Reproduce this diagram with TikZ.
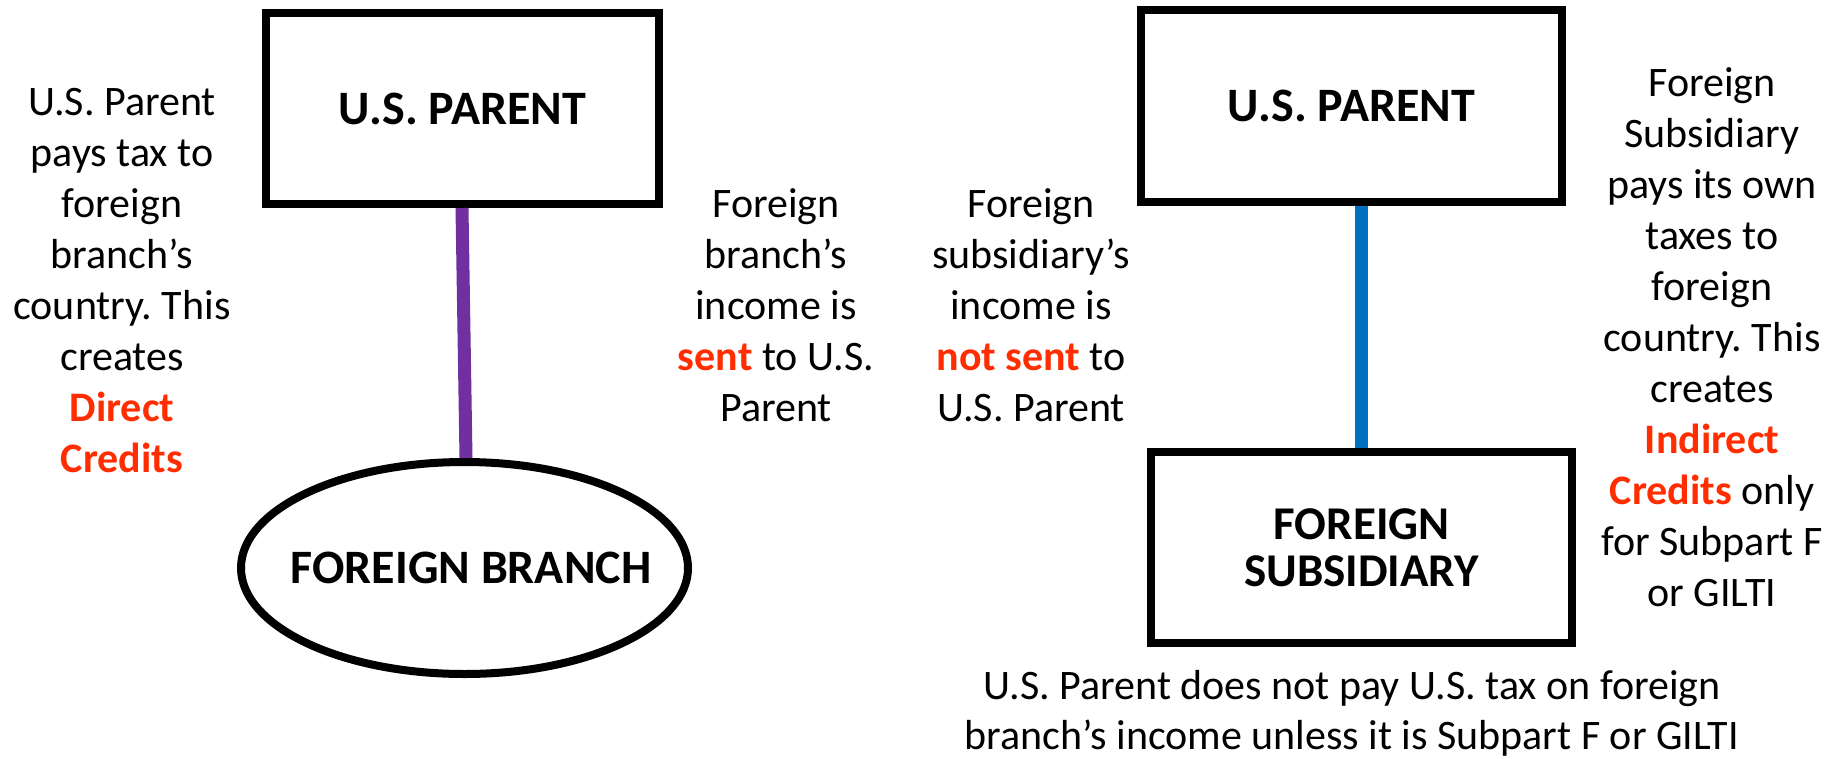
\documentclass[tikz,border=0pt]{standalone}
\usepackage{fontspec}
\setmainfont{Carlito}
\usetikzlibrary{shapes.geometric,calc}
\definecolor{hlred}{RGB}{255,45,0}
\definecolor{linkpurple}{RGB}{112,48,160}
\definecolor{linkblue}{RGB}{0,112,192}
\newcommand{\hlr}[1]{\textcolor{hlred}{\bfseries #1}}
\frenchspacing
\begin{document}
\begin{tikzpicture}[x=1pt,y=-1pt,
  entity/.style={draw=black, line width=8pt, inner sep=0pt, align=center,
    font=\fontsize{47}{47}\selectfont\bfseries},
  titletext/.style={font=\fontsize{48}{48}\selectfont\bfseries, inner sep=0pt},
  note/.style={inner sep=0pt, align=center, font=\fontsize{42}{51}\selectfont},
  link/.style={line width=13pt}]
\useasboundingbox (0,0) rectangle (1831,758);

% left side
\node[entity, rectangle, minimum width=393pt, minimum height=191pt,
  font=\fontsize{48}{48}\selectfont\bfseries] (lp) at (462.5,108.5) {U.S. PARENT};
\node[entity, ellipse, minimum width=447pt, minimum height=212pt,
  label={[titletext, xshift=6.5pt]center:FOREIGN BRANCH}] (fb) at (464.5,568) {};
\draw[link, linkpurple] ($(lp.south)+(-0.5,0)$) -- ($(fb.north)+(1.5,0)$);

% right side
\node[entity, rectangle, minimum width=421pt, minimum height=192pt,
  font=\fontsize{48}{48}\selectfont\bfseries] (rt) at (1351.5,106) {U.S. PARENT};
\node[entity, rectangle, minimum width=421pt, minimum height=191pt] (rb) at (1361.5,547.5) {FOREIGN\\SUBSIDIARY};
\draw[link, linkblue] (rt.south -| rb.north) -- (rb.north);

% notes
\node[note] (lt) at (122,281) {U.S. Parent\\pays tax to\\foreign\\branch’s\\country. This\\creates\\\hlr{Direct}\\\hlr{Credits}};
\node[note] (m1) at (776,305.5) {Foreign\\branch’s\\income is\\\hlr{sent} to U.S.\\Parent};
\node[note] (m2) at (1031,305.5) {Foreign\\subsidiary’s\\income is\\\hlr{not sent} to\\U.S. Parent};
\node[note] (rtx) at (1712,337) {Foreign\\Subsidiary\\pays its own\\taxes to\\foreign\\country. This\\creates\\\hlr{Indirect}\\\hlr{Credits} only\\for Subpart F\\or GILTI};
\node[note, font=\fontsize{42}{50}\selectfont] (bt) at (1352,713) {U.S. Parent does not pay U.S. tax on foreign\\branch’s income unless it is Subpart F or GILTI};
\end{tikzpicture}
\end{document}
